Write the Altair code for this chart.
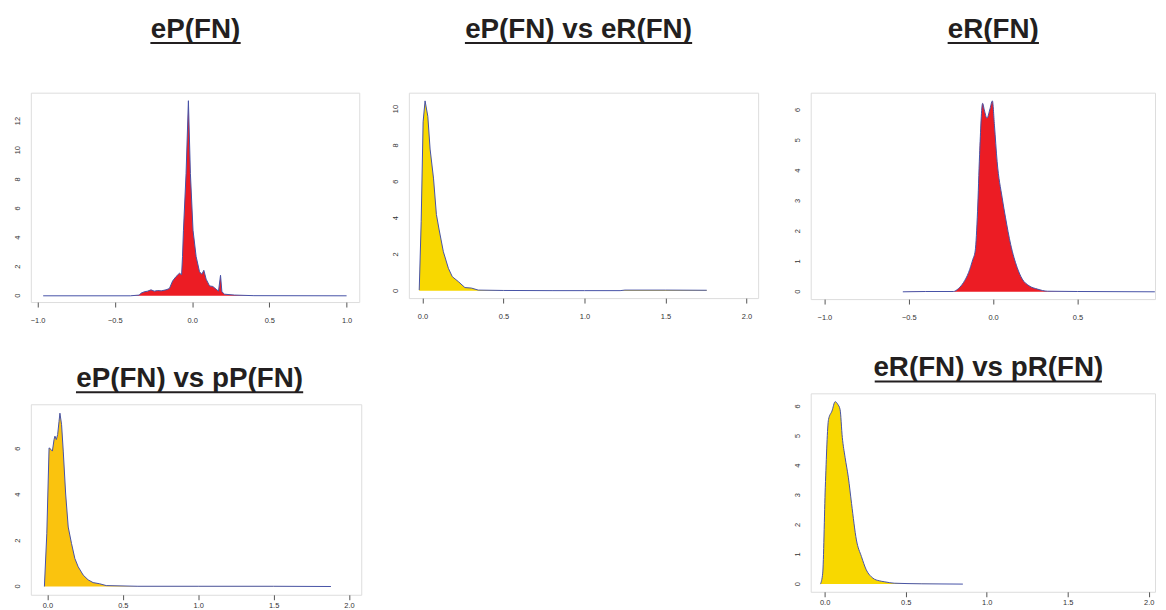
import altair as alt
import pandas as pd

# ---------------- data ----------------
titles = ["eP(FN)", "eP(FN) vs eR(FN)", "eR(FN)", "eP(FN) vs pP(FN)", "eR(FN) vs pR(FN)"]

p1_x = [-0.964, -0.40, -0.342, -0.331, -0.31, -0.288, -0.266, -0.245, -0.223, -0.2,
        -0.169, -0.147, -0.126, -0.104, -0.082, -0.068, -0.062, -0.056, -0.039, -0.024,
        -0.011, 0.006, 0.026, 0.048, 0.063, 0.076, 0.091, 0.113, 0.134, 0.156,
        0.171, 0.184, 0.193, 0.21, 0.275, 0.40, 1.0]
p1_y = [0.0, 0.0, 0.05, 0.18, 0.27, 0.32, 0.41, 0.32, 0.36, 0.34,
        0.41, 0.5, 1.02, 1.32, 1.55, 1.45, 2.7, 4.5, 8.4, 13.4,
        8.4, 4.5, 2.7, 1.65, 1.48, 1.75, 1.14, 0.68, 0.64, 0.45,
        0.32, 1.41, 0.27, 0.11, 0.05, 0.01, 0.0]

p2_x = [-0.02, -0.008, 0.004, 0.016, 0.033, 0.047, 0.068, 0.086, 0.102, 0.129,
        0.16, 0.184, 0.221, 0.262, 0.303, 0.344, 0.5, 0.8, 1.0, 1.22, 1.25, 1.5, 1.755]
p2_y = [0.04, 3.8, 9.3, 10.45, 9.6, 7.8, 6.2, 4.2, 3.4, 2.15,
        1.24, 0.78, 0.51, 0.18, 0.15, 0.04, 0.02, 0.01, 0.01, 0.01, 0.04, 0.04, 0.03]

p3_x = [-0.535, -0.4, -0.235, -0.205, -0.175, -0.145, -0.12, -0.106, -0.092, -0.08,
        -0.062, -0.052, -0.036, -0.02, -0.004, 0.008, 0.024, 0.054, 0.074, 0.104,
        0.143, 0.173, 0.213, 0.263, 0.323, 0.5, 0.959]
p3_y = [0.0, 0.01, 0.01, 0.11, 0.31, 0.64, 1.07, 1.35, 2.66, 4.52,
        6.22, 6.0, 5.73, 6.0, 6.3, 5.5, 4.3, 3.1, 2.44, 1.57,
        0.8, 0.42, 0.2, 0.09, 0.02, 0.01, 0.0]

p4_x = [-0.02, -0.004, 0.011, 0.024, 0.033, 0.044, 0.05, 0.059, 0.068, 0.077,
        0.083, 0.094, 0.105, 0.121, 0.138, 0.16, 0.182, 0.204, 0.237, 0.27,
        0.303, 0.346, 0.39, 0.6, 1.0, 1.5, 1.88]
p4_y = [0.0, 2.3, 6.04, 5.97, 5.9, 6.4, 6.55, 6.4, 6.62, 7.19,
        7.55, 7.05, 5.9, 4.03, 2.59, 1.87, 1.22, 0.86, 0.5, 0.29,
        0.17, 0.12, 0.04, 0.01, 0.01, 0.01, 0.0]

p5_x = [-0.026, -0.012, 0.004, 0.024, 0.045, 0.065, 0.081, 0.095, 0.109, 0.126,
        0.146, 0.166, 0.196, 0.227, 0.257, 0.298, 0.338, 0.368, 0.429, 0.6, 0.853]
p5_y = [0.0, 0.37, 3.27, 5.56, 5.84, 6.16, 6.07, 5.9, 4.95, 4.28,
        3.61, 2.72, 1.49, 0.93, 0.48, 0.2, 0.11, 0.08, 0.03, 0.01, 0.0]

xt_sym = [-1.0, -0.5, 0.0, 0.5, 1.0]
xt_sym_cut = [-1.0, -0.5, 0.0, 0.5]
xt_pos = [0.0, 0.5, 1.0, 1.5, 2.0]

RED = "#EC1C24"
YEL = "#F8D800"
ORG = "#FAC30E"
LINE = "#4652A6"
FRAME = "#555555"
TXT = "#333333"

TITLE_FONT = "Liberation Sans"
TICK_FONT = "Liberation Sans"


def panel(xs, ys, title, fill, xdom, ydom, xticks, yticks, w, h,
          tcx, tby, tw, interp, xpad):
    df = pd.DataFrame({"x": xs, "y": ys})
    xax = alt.Axis(values=xticks, format=".1f", title=None, grid=False, domain=False,
                   tickSize=5, tickColor=FRAME, tickWidth=1, labelFont=TICK_FONT,
                   labelFontSize=7.5, labelPadding=xpad, labelColor=TXT,
                   labelFlush=False, labelOverlap=False)
    yax = alt.Axis(values=yticks, title=None, grid=False, domain=False, labels=False,
                   tickSize=5, tickColor=FRAME, tickWidth=1)
    xs_ = alt.Scale(domain=xdom, nice=False, zero=False)
    ys_ = alt.Scale(domain=ydom, nice=False, zero=False)
    base = alt.Chart(df)
    area = base.mark_area(color=fill, opacity=1, interpolate=interp).encode(
        x=alt.X("x:Q", scale=xs_, axis=xax),
        y=alt.Y("y:Q", scale=ys_, axis=yax),
        y2=alt.datum(0),
    )
    line = base.mark_line(color=LINE, strokeWidth=1, interpolate=interp).encode(
        x="x:Q", y="y:Q"
    )
    ylab = alt.Chart(pd.DataFrame({"v": yticks})).mark_text(
        angle=270, align="center", baseline="bottom", font=TICK_FONT,
        fontSize=7.5, color=TXT
    ).encode(
        x=alt.value(-9),
        y=alt.Y("v:Q", scale=ys_, axis=None),
        text=alt.Text("v:Q", format="d"),
    )
    one = alt.Chart(pd.DataFrame({"t": [title]}))
    ttl = one.mark_text(font=TITLE_FONT, fontSize=28, fontWeight="bold",
                        color="#231F20", align="center", baseline="alphabetic").encode(
        x=alt.value(tcx), y=alt.value(tby), text="t:N"
    )
    ul = one.mark_rule(color="#231F20", strokeWidth=2).encode(
        x=alt.value(tcx - tw / 2), x2=alt.value(tcx + tw / 2), y=alt.value(tby + 5)
    )
    return alt.layer(area, line, ylab, ttl, ul).properties(width=w, height=h)


c1 = panel(p1_x, p1_y, titles[0], RED, [-1.044, 1.082], [-0.43, 13.95], xt_sym,
           [0, 2, 4, 6, 8, 10, 12], 331, 211, 166, -55, 91, "linear", 10)
c2 = panel(p2_x, p2_y, titles[1], YEL, [-0.084, 2.072], [-0.4, 10.9], xt_pos,
           [0, 2, 4, 6, 8, 10], 352, 207, 171, -55, 229, "linear", 10)
c3 = panel(p3_x, p3_y, titles[2], RED, [-1.081, 0.960], [-0.24, 6.57], xt_sym_cut,
           [0, 1, 2, 3, 4, 5, 6], 347, 208, 184, -55, 92, "monotone", 10)
c4 = panel(p4_x, p4_y, titles[3], ORG, [-0.11, 2.081], [-0.36, 7.94], xt_pos,
           [0, 2, 4, 6], 333, 192, 160, -17, 229, "linear", 2)
c5 = panel(p5_x, p5_y, titles[4], YEL, [-0.086, 2.039], [-0.26, 6.44], xt_pos,
           [0, 1, 2, 3, 4, 5, 6], 347, 200, 179, -17, 229, "monotone", 2)

col1 = alt.vconcat(c1, c4, spacing=40)
col3 = alt.vconcat(c3, c5, spacing=32)
left = alt.hconcat(col1, c2, spacing=29)
chart = alt.hconcat(left, col3, spacing=34).properties(
    padding={"left": 5, "top": 5, "right": 0, "bottom": 0}
).configure_view(stroke=FRAME, strokeWidth=1.2).configure(background="white")

chart.save("out.html", embed_options={"renderer": "svg", "actions": False})
